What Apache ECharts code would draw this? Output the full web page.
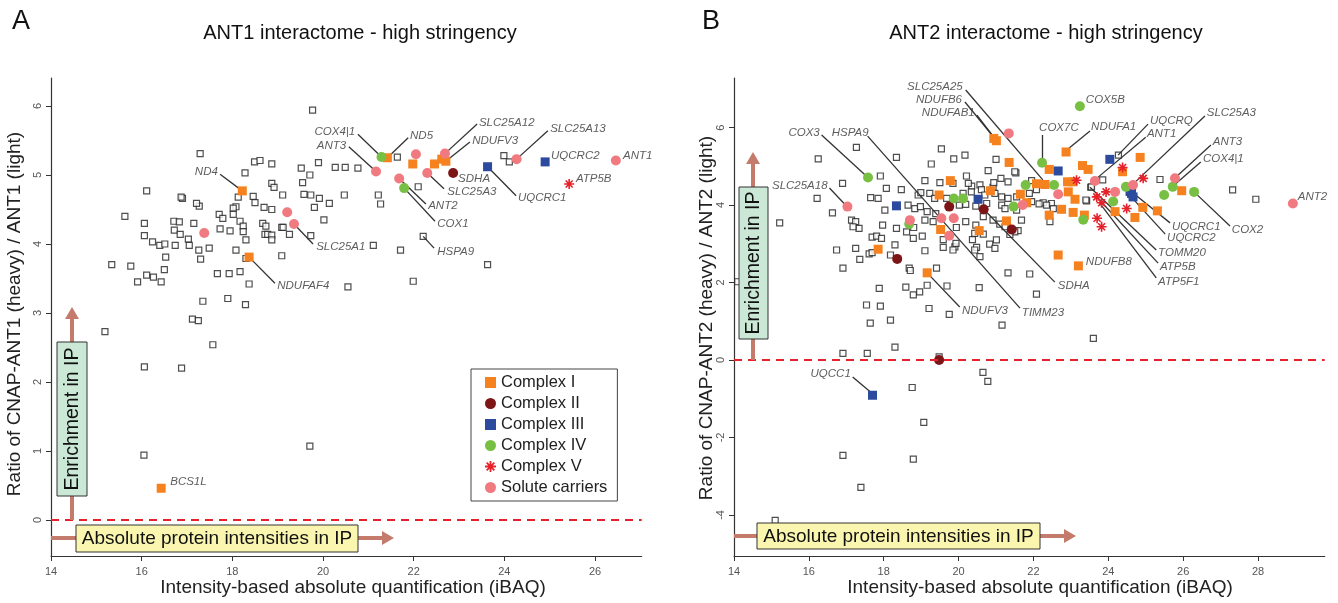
<!DOCTYPE html>
<html><head><meta charset="utf-8">
<script src="https://cdn.jsdelivr.net/npm/echarts@6/dist/echarts.min.js"></script>
<style>html,body{margin:0;padding:0;background:#fff}#c{width:1338px;height:603px}</style>
</head><body><div id="c"></div>
<script>
const FONT = '"Liberation Sans", Arial, Helvetica, sans-serif';

// ---------------- Panel A (ANT1) data ----------------
const aOther = [[19.77,5.94],[17.29,5.31],[18.49,5.19],[18.61,5.21],[18.87,5.16],[18.28,5.03],[19.52,5.10],[19.90,5.18],[20.27,5.11],[19.71,5.00],[19.55,4.89],[18.87,4.88],[18.92,4.82],[19.11,4.71],[19.58,4.72],[19.73,4.71],[19.92,4.66],[20.14,4.59],[19.81,4.53],[18.46,4.69],[18.50,4.60],[18.13,4.68],[18.70,4.53],[18.87,4.50],[18.08,4.54],[18.02,4.52],[18.02,4.43],[17.71,4.43],[17.79,4.37],[18.17,4.33],[18.24,4.26],[17.73,4.22],[17.95,4.19],[18.24,4.18],[18.30,4.06],[18.08,3.91],[18.30,3.79],[18.67,4.30],[18.74,4.26],[18.72,4.14],[18.78,4.14],[18.87,4.13],[18.87,4.06],[19.09,4.24],[19.12,4.24],[19.26,4.14],[19.09,3.83],[19.73,4.12],[20.02,4.35],[17.27,4.55],[16.90,4.66],[16.87,4.68],[17.21,4.59],[16.11,4.77],[15.63,4.40],[16.06,4.30],[16.06,4.12],[16.24,4.03],[16.40,3.98],[16.51,4.00],[16.71,4.33],[16.83,4.32],[16.72,4.20],[16.85,4.14],[17.03,4.07],[17.05,3.98],[17.15,4.30],[16.74,3.98],[16.53,3.81],[17.26,3.91],[17.30,3.78],[17.49,3.94],[15.34,3.70],[15.76,3.68],[15.91,3.45],[16.11,3.55],[16.26,3.52],[16.43,3.45],[16.50,3.63],[17.67,3.57],[17.93,3.57],[18.17,3.60],[18.37,3.42],[17.35,3.17],[17.90,3.21],[18.29,3.12],[17.12,2.91],[17.25,2.89],[17.57,2.54],[15.19,2.73],[16.06,2.22],[16.88,2.20],[16.05,0.94],[19.71,1.07],[21.64,5.26],[23.99,5.28],[24.11,5.19],[20.49,5.11],[20.77,5.10],[20.47,4.71],[21.22,4.71],[21.27,4.58],[22.10,4.83],[21.11,3.98],[21.71,3.91],[22.21,4.11],[23.63,3.70],[20.55,3.38],[21.99,3.46]];
const aComplexI = [[18.22,4.77],[18.37,3.81],[16.43,0.46],[21.42,5.25],[21.98,5.16],[22.71,5.20],[22.62,5.23],[22.46,5.16]];
const aComplexII = [[22.87,5.03]];
const aComplexIII = [[23.63,5.12],[24.90,5.19]];
const aComplexIV = [[21.29,5.26],[21.79,4.81]];
const aComplexV = [[25.43,4.87]];
const aSolute = [[17.38,4.16],[19.21,4.46],[19.36,4.29],[21.17,5.05],[22.05,5.30],[22.69,5.31],[22.30,5.03],[21.68,4.95],[24.27,5.23],[26.46,5.21]];
const aXTicks = [14,16,18,20,22,24,26];
const aYTicks = [0,1,2,3,4,5,6];
const aCallouts = [
 {t:'ND4', at:[17.68,5.04], side:'L', line:[[18.22,4.77],[17.73,5.01]]},
 {t:'NDUFAF4', at:[18.99,3.39], side:'R', line:[[18.37,3.81],[18.94,3.43]]},
 {t:'SLC25A1', at:[19.85,3.96], side:'R', line:[[19.36,4.29],[19.78,4.00]]},
 {t:'COX4|1', at:[20.71,5.62], side:'L', line:[[21.29,5.26],[20.77,5.59]]},
 {t:'ANT3', at:[20.51,5.43], side:'L', line:[[21.17,5.05],[20.57,5.41]]},
 {t:'ND5', at:[21.92,5.57], side:'R', line:[[21.42,5.25],[21.88,5.54]]},
 {t:'SLC25A12', at:[23.44,5.75], side:'R', line:[[22.69,5.31],[23.40,5.74]]},
 {t:'NDUFV3', at:[23.29,5.49], side:'R', line:[[22.71,5.20],[23.24,5.48]]},
 {t:'SLC25A13', at:[25.01,5.67], side:'R', line:[[24.27,5.23],[24.96,5.64]]},
 {t:'UQCRC2', at:[25.03,5.28], side:'R'},
 {t:'ANT1', at:[26.62,5.28], side:'R'},
 {t:'ATP5B', at:[25.58,4.94], side:'R'},
 {t:'SDHA', at:[22.98,4.94], side:'R'},
 {t:'SLC25A3', at:[22.74,4.75], side:'R', line:[[22.30,5.03],[22.67,4.80]]},
 {t:'UQCRC1', at:[24.30,4.67], side:'R', line:[[23.63,5.12],[24.26,4.70]]},
 {t:'ANT2', at:[22.32,4.55], side:'R', line:[[21.68,4.95],[22.27,4.58]]},
 {t:'COX1', at:[22.52,4.29], side:'R', line:[[21.79,4.81],[22.47,4.33]]},
 {t:'HSPA9', at:[22.52,3.88], side:'R', line:[[22.21,4.11],[22.45,3.94]]},
 {t:'BCS1L', at:[16.63,0.55], side:'R'}
];

// ---------------- Panel B (ANT2) data ----------------
const bOther = [[16.25,5.19],[16.22,4.17],[16.63,3.80],[15.22,3.54],[16.74,2.84],[17.27,5.49],[19.54,5.45],[14.10,2.02],[21.00,5.18],[19.87,5.19],[18.07,4.43],[19.85,4.56],[21.13,4.69],[21.53,4.83],[20.35,4.49],[20.92,4.46],
 [18.34,5.23],[20.17,5.29],[19.27,5.06],[20.79,4.89],[17.91,4.75],[16.90,4.56],[19.10,4.63],[19.50,4.58],[20.21,4.75],[20.26,4.56],[20.57,4.52],[20.94,4.58],[21.32,4.60],[21.95,4.63],[22.08,4.40],[18.47,4.40],[18.92,4.26],[18.99,4.32],[19.23,4.30],[19.36,4.17],[19.68,4.17],[20.12,4.30],[20.34,4.34],[20.61,4.40],[20.70,4.26],[20.97,4.30],[21.15,4.21],[21.32,4.17],[21.55,4.21],[21.89,4.30],[22.26,4.06],[22.48,4.04],[17.65,4.19],[17.85,4.17],[18.03,3.87],[18.65,4.00],[18.83,3.91],[18.98,3.96],[19.16,3.83],[19.39,3.78],[20.02,4.00],[20.19,4.02],[20.46,3.97],[20.75,4.04],[21.15,4.00],[21.55,3.87],[21.95,4.09],[22.15,4.03],[23.42,4.11],[23.53,4.46],[17.14,3.61],[17.25,3.57],[17.34,3.40],[17.18,3.44],[17.97,3.48],[18.34,3.40],[18.61,3.31],[18.80,3.42],[19.10,3.61],[19.32,3.57],[19.94,3.42],[20.19,3.57],[20.46,3.48],[20.66,3.70],[20.92,3.61],[21.10,3.51],[21.24,3.44],[21.59,3.34],[20.43,3.27],[20.66,3.25],[21.01,3.10],[17.69,3.17],[17.81,3.20],[17.94,3.14],[18.30,2.97],[18.79,3.14],[19.03,3.20],[19.59,3.11],[19.90,2.92],[19.93,3.01],[20.37,3.11],[20.48,2.91],[20.43,2.84],[20.57,2.67],[20.83,2.99],[20.97,2.88],[17.25,2.88],[17.61,2.74],[17.69,2.77],[18.18,2.71],[19.10,2.82],[19.59,2.91],[19.85,2.84],[16.91,2.37],[17.36,2.60],[18.68,2.37],[18.71,2.31],[19.41,2.37],[21.32,2.25],[21.90,2.22],[17.88,1.85],[18.59,1.88],[18.79,1.68],[18.96,1.76],[19.16,1.93],[19.69,1.91],[20.55,1.87],[22.08,1.70],[17.54,1.42],[17.91,1.39],[19.21,1.33],[19.75,1.18],[17.64,0.95],[18.18,1.03],[21.16,0.90],[23.60,0.56],[18.30,0.33],
 [16.91,0.17],[17.56,0.17],[19.48,0.08],[20.65,-0.32],[20.78,-0.55],[18.76,-0.71],[19.07,-1.61],[16.91,-2.46],[18.79,-2.56],[17.39,-3.29],[15.10,-4.14],
 [24.27,5.29],[25.38,4.66],[27.32,4.39],[27.94,4.15],[21.50,4.86],[23.85,4.65],[23.55,4.47],[23.40,4.13],[22.44,3.57],[22.35,4.00],[22.53,3.91],[21.68,3.61],[21.50,3.31],[21.37,3.24],[21.24,3.91]];
const bComplexI = [[21.01,5.66],[20.94,5.72],[21.35,5.10],[17.85,2.86],[19.16,2.25],[19.78,4.63],[19.48,4.26],[19.52,3.37],[20.55,3.34],[20.85,4.37],[21.28,3.59],[21.65,4.28],[21.82,4.06],[22.42,4.92],[22.87,5.37],[22.08,4.55],[22.31,4.53],[22.91,4.60],[23.06,4.60],[22.93,4.34],[22.42,3.74],[22.75,3.89],[23.11,4.15],[23.06,3.81],[23.36,3.74],[22.66,2.71],[23.20,2.43],[23.31,5.02],[23.46,4.92],[24.85,5.23],[24.38,4.86],[24.18,3.83],[24.92,3.94],[25.31,3.85],[24.71,3.68],[25.96,4.37]];
const bComplexII = [[18.36,2.61],[19.75,3.96],[20.67,3.89],[21.42,3.37],[19.48,0.00]];
const bComplexIII = [[18.34,3.98],[20.52,4.15],[22.66,4.88],[24.04,5.18],[24.62,4.30],[24.66,4.21],[24.58,4.35],[17.70,-0.91]];
const bComplexIV = [[17.58,4.71],[18.68,3.51],[19.87,4.17],[20.12,4.17],[21.47,3.96],[22.23,5.09],[21.79,4.52],[22.55,4.52],[23.33,3.62],[23.24,6.55],[24.47,4.47],[25.72,4.47],[25.49,4.26],[26.29,4.34],[24.13,4.09]];
const bComplexV = [[24.38,4.97],[24.93,4.69],[23.94,4.34],[23.69,4.21],[23.82,4.06],[24.49,3.91],[23.70,3.66],[23.82,3.44],[23.15,4.64]];
const bSolute = [[17.03,3.96],[21.34,5.85],[18.70,3.61],[19.54,3.66],[19.87,3.66],[19.75,3.21],[21.71,4.00],[22.66,4.28],[23.64,4.62],[24.66,4.52],[25.78,4.69],[28.93,4.04],[24.18,4.34]];
const bXTicks = [14,16,18,20,22,24,26,28];
const bYTicks = [-4,-2,0,2,4,6];
const bCallouts = [
 {t:'SLC25A25', at:[20.11,7.05], side:'L', line:[[20.19,6.97],[22.25,4.65]]},
 {t:'NDUFB6', at:[20.09,6.71], side:'L', line:[[20.17,6.66],[21.00,5.68]]},
 {t:'NDUFAB1', at:[20.43,6.37], side:'L', line:[[20.49,6.32],[20.94,5.75]]},
 {t:'COX3', at:[16.29,5.86], side:'L', line:[[16.34,5.81],[17.57,4.72]]},
 {t:'HSPA9', at:[16.61,5.86], side:'R', line:[[17.57,5.78],[21.64,1.34]]},
 {t:'SLC25A18', at:[16.50,4.49], side:'L', line:[[16.55,4.44],[17.01,3.97]]},
 {t:'NDUFV3', at:[20.09,1.26], side:'R', line:[[19.16,2.25],[20.03,1.37]]},
 {t:'TIMM23', at:[21.69,1.21], side:'R'},
 {t:'SDHA', at:[22.65,1.91], side:'R', line:[[20.67,3.89],[22.57,2.01]]},
 {t:'NDUFB8', at:[23.40,2.53], side:'R'},
 {t:'COX5B', at:[23.40,6.71], side:'R'},
 {t:'COX7C', at:[22.15,5.99], side:'R', line:[[22.23,5.81],[22.23,5.15]]},
 {t:'NDUFA1', at:[23.54,6.01], side:'R', line:[[23.51,5.91],[22.89,5.42]]},
 {t:'UQCRQ', at:[25.11,6.17], side:'R', line:[[25.06,6.09],[24.26,5.29]]},
 {t:'ANT1', at:[25.03,5.83], side:'R', line:[[25.00,5.75],[23.64,4.65]]},
 {t:'SLC25A3', at:[26.63,6.37], side:'R', line:[[26.58,6.30],[24.66,4.54]]},
 {t:'ANT3', at:[26.79,5.63], side:'R', line:[[26.74,5.55],[25.78,4.70]]},
 {t:'COX4|1', at:[26.53,5.19], side:'R', line:[[26.47,5.11],[25.73,4.49]]},
 {t:'COX2', at:[27.30,3.35], side:'R', line:[[26.29,4.34],[27.25,3.46]]},
 {t:'UQCRC1', at:[25.70,3.43], side:'R', line:[[24.66,4.31],[25.65,3.54]]},
 {t:'UQCRC2', at:[25.57,3.15], side:'R', line:[[24.61,4.21],[25.52,3.25]]},
 {t:'TOMM20', at:[25.33,2.76], side:'R', line:[[23.51,4.46],[25.28,2.84]]},
 {t:'ATP5B', at:[25.38,2.40], side:'R', line:[[23.64,4.26],[25.33,2.50]]},
 {t:'ATP5F1', at:[25.33,2.01], side:'R', line:[[23.77,4.05],[25.28,2.12]]},
 {t:'ANT2', at:[29.06,4.21], side:'R'},
 {t:'UQCC1', at:[17.12,-0.36], side:'L', line:[[17.17,-0.44],[17.71,-0.88]]}
];

// ---------------- styling ----------------
const STAR = 'path://M-5,-0.8L5,-0.8L5,0.8L-5,0.8Z M-0.8,-5L0.8,-5L0.8,5L-0.8,5Z M-2.93,-4.07L4.07,2.93L2.93,4.07L-4.07,-2.93Z M-4.07,2.93L2.93,-4.07L4.07,-2.93L-2.93,4.07Z';
const CAT = [
  {name:'Complex I', symbol:'rect', color:'#F5821F', size:9},
  {name:'Complex II', symbol:'circle', color:'#7D1416', size:10},
  {name:'Complex III', symbol:'rect', color:'#2C4A9E', size:9},
  {name:'Complex IV', symbol:'circle', color:'#78C043', size:10},
  {name:'Complex V', symbol:STAR, color:'#E62129', size:10},
  {name:'Solute carriers', symbol:'circle', color:'#F07A80', size:10}
];

function panelSeries(gi, other, sets, callouts) {
  const s = [];
  s.push({
    type:'scatter', name:'other', xAxisIndex:gi, yAxisIndex:gi, data:other,
    symbol:'rect', symbolSize:6, z:2,
    itemStyle:{color:'#fff', borderColor:'#222', borderWidth:1.2},
    markLine:{silent:true, symbol:'none', label:{show:false},
      lineStyle:{color:'#E62129', type:[8,6], width:2}, data:[{yAxis:0}]}
  });
  s.push({
    type:'lines', coordinateSystem:'cartesian2d', xAxisIndex:gi, yAxisIndex:gi, z:3,
    lineStyle:{color:'#333', width:1.3, opacity:1},
    data: callouts.filter(c => c.line).map(c => ({coords:c.line}))
  });
  CAT.forEach((c, i) => {
    s.push({
      type:'scatter', name:c.name, xAxisIndex:gi, yAxisIndex:gi, data:sets[i],
      symbol:c.symbol, symbolSize:c.size, z:4,
      itemStyle:{color:c.color, opacity:1}
    });
  });
  s.push({
    type:'scatter', name:'labels', xAxisIndex:gi, yAxisIndex:gi, z:5, symbolSize:0,
    data: callouts.map(c => ({name:c.t, value:c.at,
      label:{position: c.side === 'L' ? 'left' : 'right'}})),
    label:{show:true, formatter:'{b}', distance:0, fontStyle:'italic',
      fontFamily:FONT, fontSize:11.5, color:'#333'}
  });
  return s;
}

function xAxisOpt(gi, max, ticks) {
  return {gridIndex:gi, type:'value', min:14, max:max,
    axisLine:{show:true, onZero:false, lineStyle:{color:'#333', width:1.2}},
    axisTick:{show:true, length:5, inside:false, customValues:ticks, lineStyle:{color:'#333'}},
    axisLabel:{customValues:ticks, fontSize:11, color:'#555', margin:10, fontFamily:FONT},
    splitLine:{show:false}};
}
function yAxisOpt(gi, min, max, ticks) {
  return {gridIndex:gi, type:'value', min:min, max:max,
    axisLine:{show:true, onZero:false, lineStyle:{color:'#333', width:1.2}},
    axisTick:{show:true, length:5, inside:false, customValues:ticks, lineStyle:{color:'#333'}},
    axisLabel:{customValues:ticks, rotate:90, fontSize:11, color:'#555', margin:8, fontFamily:FONT},
    splitLine:{show:false}};
}

function txt(x, y, text, size, opts) {
  opts = opts || {};
  return {type:'text', x:x, y:y, rotation:opts.rot || 0, z:opts.z || 10,
    style:{text:text, font:(opts.weight||'normal') + ' ' + size + 'px ' + FONT, fill:opts.fill || '#111',
      align:opts.align || 'center', textAlign:opts.align || 'center',
      verticalAlign:'middle', textVerticalAlign:'middle'}};
}
const ARROW = '#C47B6C';
function hArrow(x0, x1, y) {
  return [
    {type:'line', z:6, shape:{x1:x0, y1:y, x2:x1 - 8, y2:y}, style:{stroke:ARROW, lineWidth:4}},
    {type:'polygon', z:6, shape:{points:[[x1 - 12, y - 7], [x1, y], [x1 - 12, y + 7]]}, style:{fill:ARROW}}
  ];
}
function vArrow(x, y0, y1) {
  return [
    {type:'line', z:6, shape:{x1:x, y1:y0, x2:x, y2:y1 + 8}, style:{stroke:ARROW, lineWidth:4}},
    {type:'polygon', z:6, shape:{points:[[x - 7, y1 + 12], [x, y1], [x + 7, y1 + 12]]}, style:{fill:ARROW}}
  ];
}
function box(x, y, w, h, fill) {
  return {type:'rect', z:7, shape:{x:x, y:y, width:w, height:h}, style:{fill:fill, stroke:'#333', lineWidth:1}};
}

const graphics = [
  txt(21, 22, 'A', 27), txt(711, 22, 'B', 27),
  txt(360, 33, 'ANT1 interactome - high stringency', 20),
  txt(1046, 33, 'ANT2 interactome - high stringency', 20),
  txt(353, 588, 'Intensity-based absolute quantification (iBAQ)', 19, {fill:'#222'}),
  txt(1040, 588, 'Intensity-based absolute quantification (iBAQ)', 19, {fill:'#222'}),
  txt(15, 314, 'Ratio of CNAP-ANT1 (heavy) / ANT1 (light)', 19, {rot:Math.PI/2, fill:'#222'}),
  txt(707, 318, 'Ratio of CNAP-ANT2 (heavy) / ANT2 (light)', 19, {rot:Math.PI/2, fill:'#222'}),
  // panel A annotations
  ...hArrow(51, 394, 538), box(76, 525, 282, 27, '#FAF6B0'),
  txt(217, 539, 'Absolute protein intensities in IP', 19, {z:8}),
  ...vArrow(72, 520, 307), box(57, 342, 30, 154, '#CBE8D6'),
  txt(73, 419, 'Enrichment in IP', 19.5, {rot:Math.PI/2, z:8}),
  // panel B annotations
  ...hArrow(734, 1076, 536), box(757, 523, 283, 26, '#FAF6B0'),
  txt(898.5, 536.5, 'Absolute protein intensities in IP', 19, {z:8}),
  ...vArrow(753, 360, 152), box(739, 187, 29, 152, '#CBE8D6'),
  txt(754, 263, 'Enrichment in IP', 19.5, {rot:Math.PI/2, z:8})
];

const option = {
  animation:false,
  backgroundColor:'#fff',
  grid:[
    {left:51, top:78, width:590.7, height:478},
    {left:734, top:78, width:590.7, height:478}
  ],
  xAxis:[xAxisOpt(0, 27.03, aXTicks), xAxisOpt(1, 29.78, bXTicks)],
  yAxis:[yAxisOpt(0, -0.522, 6.406, aYTicks), yAxisOpt(1, -5.06, 7.28, bYTicks)],
  legend:{
    left:471, top:369, orient:'vertical', selectedMode:false,
    backgroundColor:'#fff', borderColor:'#444', borderWidth:1,
    padding:[5, 10, 5, 14], itemGap:4, itemWidth:11, itemHeight:11,
    textStyle:{fontSize:16.5, color:'#222', fontFamily:FONT, lineHeight:16},
    data: CAT.map(c => ({name:c.name, icon:c.symbol}))
  },
  series:[
    ...panelSeries(0, aOther, [aComplexI, aComplexII, aComplexIII, aComplexIV, aComplexV, aSolute], aCallouts),
    ...panelSeries(1, bOther, [bComplexI, bComplexII, bComplexIII, bComplexIV, bComplexV, bSolute], bCallouts)
  ],
  graphic: graphics
};
const chart = echarts.init(document.getElementById('c'), null, {renderer:'canvas'});
chart.setOption(option);
</script>
</body></html>
